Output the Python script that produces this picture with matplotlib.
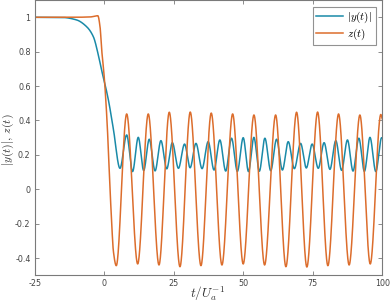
import numpy as np
import matplotlib
matplotlib.use("Agg")
import matplotlib.pyplot as plt

# ---- data (knots: plateau, transition, extrema) ----
y_t = [-25, -15, -10, -6.3, -3.9, -2.1, -0.9, 0.0, 1.5, 3.3, 5.67,
       8.08, 10.2, 12.25, 14.2, 16.2, 18.3, 20.4, 22.5, 24.5, 26.7, 28.9,
       30.9, 33.0, 35.2, 37.4, 39.5, 41.6, 43.7, 45.8, 47.9, 50.0, 51.9,
       53.85, 55.8, 57.8, 59.9, 62.0, 64.1, 66.2, 68.4, 70.65, 72.7, 74.8,
       77.0, 79.1, 81.2, 83.3, 85.4, 87.5, 89.5, 91.6, 93.6, 95.6, 97.7, 99.8, 100]
y_abs = [1.0, 0.999, 0.985, 0.945, 0.887, 0.78, 0.69, 0.63, 0.52, 0.35, 0.122,
         0.316, 0.103, 0.302, 0.109, 0.291, 0.107, 0.283, 0.119, 0.271, 0.122, 0.263,
         0.125, 0.267, 0.12, 0.277, 0.112, 0.287, 0.106, 0.297, 0.104, 0.300, 0.103,
         0.302, 0.105, 0.297, 0.108, 0.291, 0.112, 0.277, 0.12, 0.267, 0.124, 0.263,
         0.122, 0.271, 0.116, 0.283, 0.11, 0.287, 0.106, 0.297, 0.104, 0.302, 0.103, 0.300, 0.299]

z_t = [-25, -12, -5, -2.3, -1.5, -0.9, 0.0, 1.0, 2.1, 2.7, 3.3, 4.34,
       8.08, 12.04, 15.85, 19.7, 23.4, 27.25, 30.95, 34.8, 38.5, 42.35,
       46.2, 50.0, 53.86, 57.7, 61.66, 65.36, 69.2, 72.9, 76.76, 80.46,
       84.3, 88.1, 91.97, 95.7, 99.5, 100]
z_val = [1.0, 1.0, 1.002, 1.009, 0.945, 0.81, 0.655, 0.40, 0.0, -0.2, -0.36, -0.444,
         0.438, -0.434, 0.438, -0.44, 0.448, -0.45, 0.449, -0.444, 0.443, -0.44,
         0.438, -0.434, 0.432, -0.44, 0.432, -0.45, 0.448, -0.452, 0.449, -0.444,
         0.438, -0.44, 0.432, -0.434, 0.435, 0.41]

x_ticks = [-25, 0, 25, 50, 75, 100]
y_ticks = [-0.4, -0.2, 0, 0.2, 0.4, 0.6, 0.8, 1]


def pchip(xk, yk, xs):
    """Monotone piecewise cubic Hermite through the read knots."""
    xk = np.asarray(xk, float)
    yk = np.asarray(yk, float)
    h = np.diff(xk)
    d = np.diff(yk) / h
    m = np.zeros_like(yk)
    for i in range(1, len(xk) - 1):
        if d[i - 1] * d[i] > 0:
            w1 = 2 * h[i] + h[i - 1]
            w2 = h[i] + 2 * h[i - 1]
            m[i] = (w1 + w2) / (w1 / d[i - 1] + w2 / d[i])
    m[0] = d[0]
    m[-1] = d[-1]
    idx = np.clip(np.searchsorted(xk, xs) - 1, 0, len(h) - 1)
    s = (xs - xk[idx]) / h[idx]
    h00 = 2 * s**3 - 3 * s**2 + 1
    h10 = s**3 - 2 * s**2 + s
    h01 = -2 * s**3 + 3 * s**2
    h11 = s**3 - s**2
    return (h00 * yk[idx] + h10 * h[idx] * m[idx]
            + h01 * yk[idx + 1] + h11 * h[idx] * m[idx + 1])


tt = np.linspace(-25, 100, 4000)
yy = pchip(y_t, y_abs, tt)
zz = pchip(z_t, z_val, tt)

blue = '#1a8aa8'
orange = '#dc6d2c'
axcol = '#7a7a7a'

plt.rcParams['mathtext.fontset'] = 'cm'

fig = plt.figure(figsize=(3.9, 3.05), dpi=100)
ax = fig.add_axes([0.089, 0.0974, 0.891, 0.9023])
ax.plot(tt, yy, color=blue, lw=1.1, label=r'$|y(t)|$')
ax.plot(tt, zz, color=orange, lw=1.1, label=r'$z(t)$')

ax.set_xlim(-25, 100)
ax.set_ylim(-0.5, 1.1)
ax.set_xticks(x_ticks)
ax.set_xticklabels([str(v) for v in x_ticks])
ax.set_yticks(y_ticks)
ax.set_yticklabels(['%g' % v for v in y_ticks])
ax.tick_params(direction='in', length=3, width=0.6, colors=axcol,
               labelcolor='#444444', labelsize=5.8, top=True, right=True, pad=3)
for sp in ax.spines.values():
    sp.set_color(axcol)
    sp.set_linewidth(0.8)

fig.text(207 / 390, 1 - 294 / 305, r'$t/U_a^{-1}$', fontsize=9.5,
         color='#333333', ha='center', va='center')
fig.text(8 / 390, 1 - 140 / 305, r'$|y(t)|,\, z(t)$', fontsize=8.5,
         color='#333333', ha='center', va='center', rotation=90)

leg = ax.legend(loc='upper right', fontsize=8, frameon=True, fancybox=False,
                handlelength=2.4, borderaxespad=0.6, borderpad=0.3,
                labelspacing=0.1, handletextpad=0.4)
leg.get_frame().set_edgecolor('#777777')
leg.get_frame().set_linewidth(0.8)

fig.savefig('out.png', dpi=100)
